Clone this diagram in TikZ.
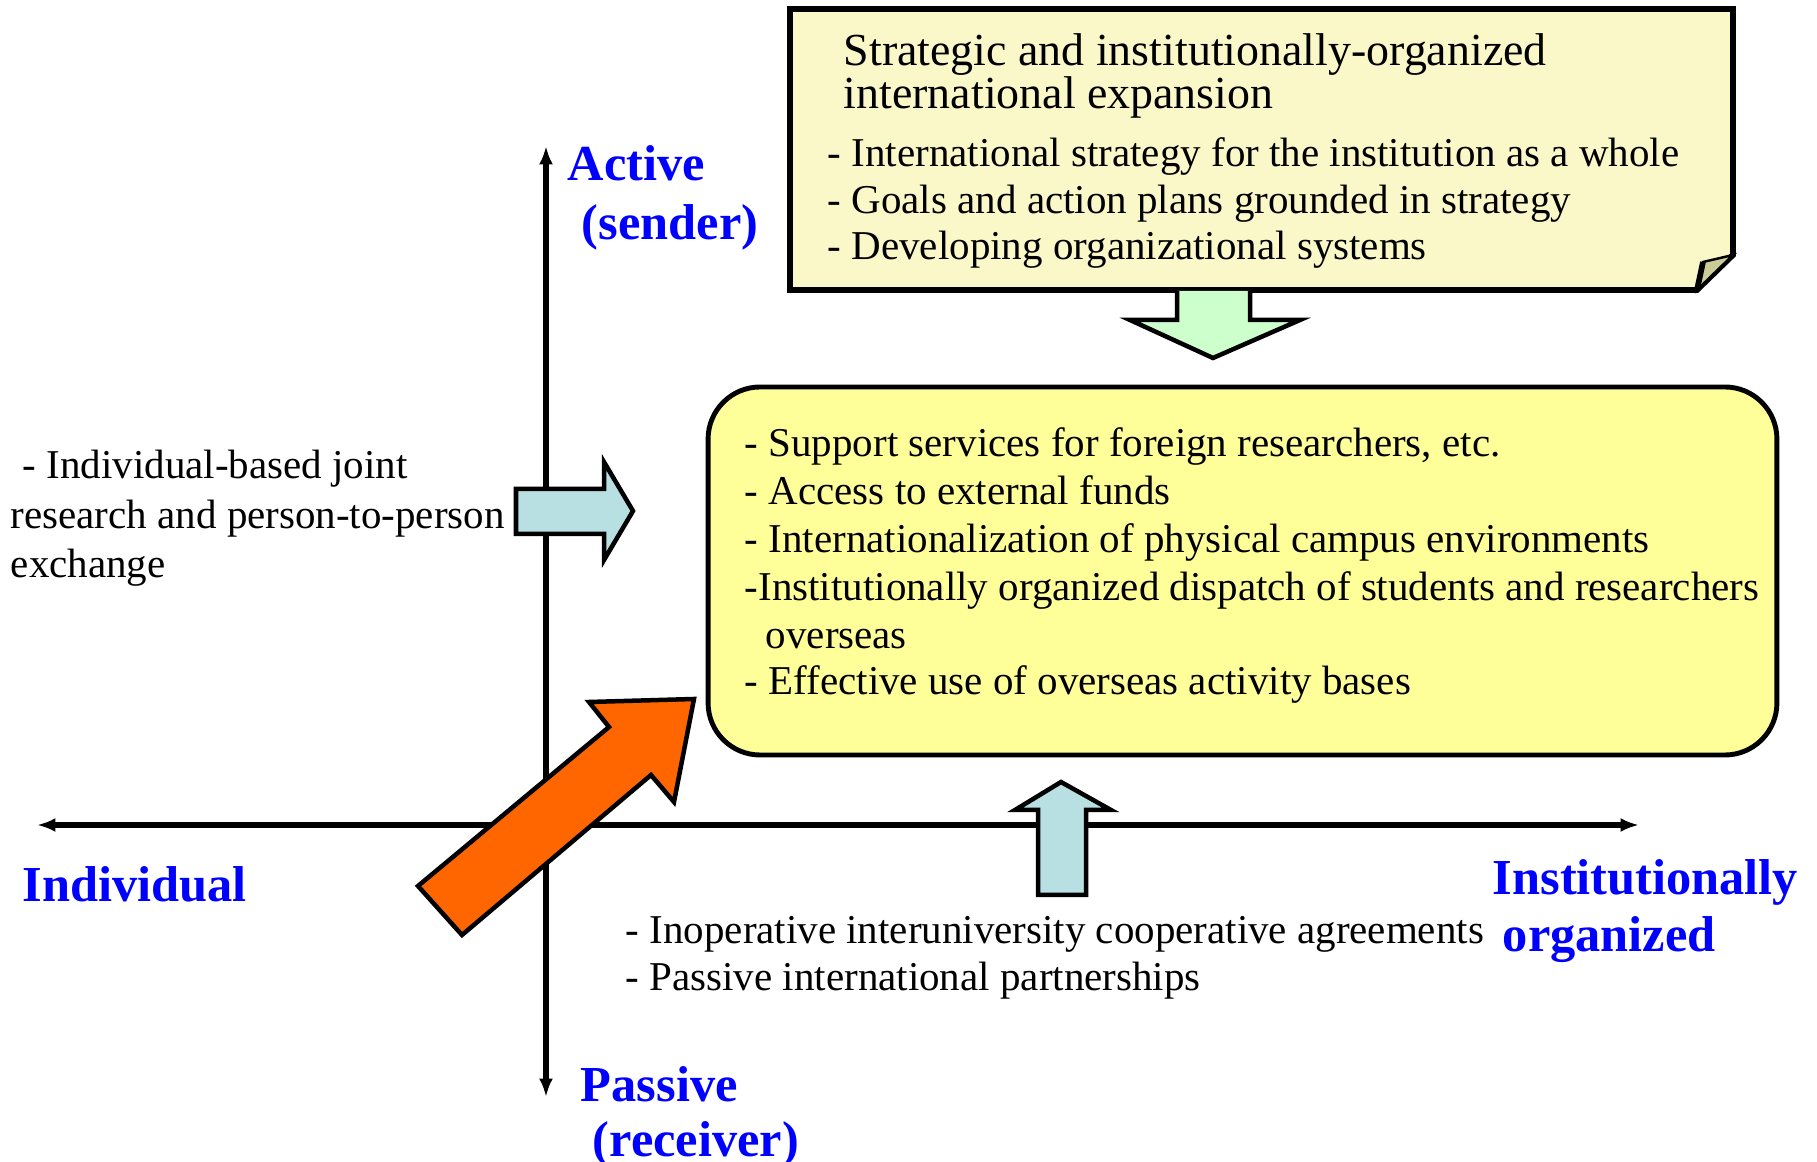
\documentclass[tikz,border=0pt]{standalone}
\usepackage{fontspec}
\setmainfont{Liberation Serif}
\usetikzlibrary{arrows.meta}
\definecolor{noteCream}{RGB}{250,247,200}
\definecolor{flapGrey}{RGB}{204,204,153}
\definecolor{boxYellow}{RGB}{255,255,153}
\definecolor{arrowGreen}{RGB}{204,255,204}
\definecolor{arrowBlue}{RGB}{184,224,227}
\definecolor{arrowOrange}{RGB}{255,102,0}
\definecolor{labelBlue}{RGB}{0,0,255}

\begin{document}
\begin{tikzpicture}[x=0.244pt, y=-0.244pt,
    line/.style={anchor=base west, inner sep=0pt, font=\fontsize{10}{12}\selectfont},
    title/.style={anchor=base west, inner sep=0pt, font=\fontsize{11.2}{13}\selectfont},
    axislabel/.style={anchor=base west, inner sep=0pt, text=labelBlue, font=\fontsize{12.3}{15}\selectfont\bfseries},
    blockarrow/.style={draw, line width=1.1pt, line join=miter},
    >={Latex[length=4.5pt,width=3.4pt]}]
            \useasboundingbox (0,0) rectangle (1817,1162);

            % Axes
            \coordinate (vtop) at (546,146);
            \coordinate (vbot) at (546,1097);
            \coordinate (hleft) at (37,825);
            \coordinate (hright) at (1639,825);
            \draw[<->,line width=1.3pt] (vbot) -- (vtop);
            \draw[<->,line width=1.3pt] (hleft) -- (hright);

            % Axis labels
            \node[axislabel] (active) at (567,181) {Active};
            \node[axislabel] (sender) at (581,240) {(sender)};
            \node[axislabel] (passive) at (580,1102) {Passive};
            \node[axislabel] (receiver) at (592,1157) {(receiver)};
            \node[axislabel] (individual) at (22,902) {Individual};
            \node[axislabel] (institution) at (1492,895) {Institutionally};
            \node[axislabel] (organized) at (1502,952) {organized};

            % Strategy note
            \draw[fill=noteCream,line width=1.4pt] (790,9) -- (1733,9) -- (1733,255) -- (1697,290) -- (790,290) -- cycle;
            \draw[fill=flapGrey,line width=0.6pt] (1733,255) -- (1703,262) -- (1697,290) -- cycle;
            \draw[line width=1.4pt] (1703,262) -- (1697,290);
            \node[title] (strat1) at (843,66) {Strategic and institutionally-organized};
            \node[title] (strat2) at (843,109) {international expansion};
            \node[line] (strat3) at (827,167) {- International strategy for the institution as a whole};
            \node[line] (strat4) at (827,214) {- Goals and action plans grounded in strategy};
            \node[line] (strat5) at (827,260) {- Developing organizational systems};

            % Main box
            \node[draw,fill=boxYellow,line width=1.2pt,rounded corners=12.7pt,minimum width=260.8pt,minimum height=89.8pt] (mainbox) at (1242.5,571) {};
            \node[line] (item1) at (744,457) {- Support services for foreign researchers, etc.};
            \node[line] (item2) at (744,505) {- Access to external funds};
            \node[line] (item3) at (744,553) {- Internationalization of physical campus environments};
            \node[line] (item4) at (744,601) {-Institutionally organized dispatch of students and researchers};
            \node[line] (item4b) at (765,649) {overseas};
            \node[line] (item5) at (744,695) {- Effective use of overseas activity bases};

            % Side texts
            \node[line] (left1) at (22,479) {- Individual-based joint};
            \node[line] (left2) at (10,529) {research and person-to-person};
            \node[line] (left3) at (10,578) {exchange};
            \node[line] (low1) at (625,944) {- Inoperative interuniversity cooperative agreements};
            \node[line] (low2) at (625,991) {- Passive international partnerships};

            % Block arrows
            \draw[blockarrow,fill=arrowGreen] (1177,291) -- (1177,320) -- (1130,320) -- (1213,358) -- (1300,320) -- (1250,320) -- (1250,291);
            \draw[blockarrow,fill=arrowBlue] (516,489) -- (604,489) -- (604,462) -- (633,511) -- (604,560) -- (604,534) -- (516,534) -- cycle;
            \draw[blockarrow,fill=arrowBlue] (1038,895) -- (1038,810) -- (1015,810) -- (1061,782) -- (1111,810) -- (1086,810) -- (1086,895) -- cycle;
            \draw[blockarrow,fill=arrowOrange] (418,886) -- (609,727) -- (589,702) -- (694,699) -- (674,802) -- (651,775) -- (462,935) -- cycle;
\end{tikzpicture}
\end{document}
